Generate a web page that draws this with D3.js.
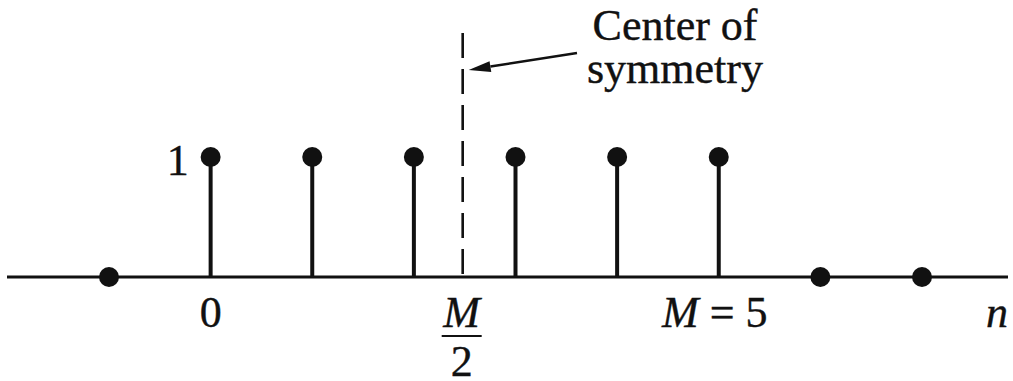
<!DOCTYPE html>
<html>
<head>
<meta charset="utf-8">
<script src="https://cdn.jsdelivr.net/npm/d3@7"></script>
<style>
  html, body { margin: 0; padding: 0; background: #fff; }
  svg { display: block; }
  text { font-family: "Liberation Serif", "Times New Roman", serif; fill: #111; stroke: #111; stroke-width: 0.4px; }
</style>
</head>
<body>
<svg id="chart" width="1013" height="381"></svg>
<script>
// Sample indices and the values h[n] of the symmetric sequence (M = 5)
const samples = [-1, 0, 1, 2, 3, 4, 5, 6, 7];
const values  = [ 0, 1, 1, 1, 1, 1, 1, 0, 0];
const M = 5;
const centerOfSymmetry = M / 2;
const yTickValues = [1];
const yTickLabels = ["1"];
const annotationLines = ["Center of", "symmetry"];

const svg = d3.select("#chart");
const ink = "#111";

// Scales
const x = d3.scaleLinear().domain([-1, 7]).range([109, 922]);
const y = d3.scaleLinear().domain([0, 1]).range([277, 157]);

// Horizontal n axis
svg.append("line")
  .attr("x1", 7).attr("x2", 1008)
  .attr("y1", y(0)).attr("y2", y(0))
  .attr("stroke", ink).attr("stroke-width", 3);

// Dashed line marking the center of symmetry
svg.append("line")
  .attr("x1", x(centerOfSymmetry) - 2).attr("x2", x(centerOfSymmetry) - 2)
  .attr("y1", 33).attr("y2", y(0))
  .attr("stroke", ink).attr("stroke-width", 2.6)
  .attr("stroke-dasharray", "25 11");

// Stems
const pts = samples.map((n, i) => ({ n, v: values[i] }));
svg.selectAll("line.stem")
  .data(pts.filter(d => d.v !== 0))
  .join("line")
  .attr("class", "stem")
  .attr("x1", d => x(d.n)).attr("x2", d => x(d.n))
  .attr("y1", y(0)).attr("y2", d => y(d.v))
  .attr("stroke", ink).attr("stroke-width", 4);

// Sample dots
svg.selectAll("circle.dot")
  .data(pts)
  .join("circle")
  .attr("class", "dot")
  .attr("cx", d => x(d.n))
  .attr("cy", d => y(d.v))
  .attr("r", 10)
  .attr("fill", ink);

// Value label on the left
svg.selectAll("text.ytick")
  .data(yTickValues)
  .join("text")
  .attr("class", "ytick")
  .attr("x", x(0) - 22)
  .attr("y", d => y(d) + 18)
  .attr("text-anchor", "end")
  .attr("font-size", 44)
  .text((d, i) => yTickLabels[i]);

// Labels under the axis
const fs = 44;
svg.append("text")
  .attr("x", x(0)).attr("y", 327)
  .attr("text-anchor", "middle").attr("font-size", fs)
  .text("0");

// M / 2 as a stacked fraction
const cx = x(centerOfSymmetry) - 3;
svg.append("text")
  .attr("x", cx).attr("y", 327)
  .attr("text-anchor", "middle").attr("font-size", fs)
  .attr("font-style", "italic")
  .text("M");
svg.append("line")
  .attr("x1", cx - 20).attr("x2", cx + 20)
  .attr("y1", 336).attr("y2", 336)
  .attr("stroke", ink).attr("stroke-width", 2);
svg.append("text")
  .attr("x", cx).attr("y", 376)
  .attr("text-anchor", "middle").attr("font-size", fs)
  .text("2");

// M = 5
const mLabel = svg.append("text")
  .attr("x", x(M) - 4).attr("y", 327)
  .attr("text-anchor", "middle").attr("font-size", fs);
mLabel.append("tspan").attr("font-style", "italic").text("M");
mLabel.append("tspan").text(" = 5");

// Axis variable
svg.append("text")
  .attr("x", 1008).attr("y", 327)
  .attr("text-anchor", "end").attr("font-size", fs)
  .attr("font-style", "italic")
  .text("n");

// Two-line annotation
svg.append("text")
  .attr("class", "note")
  .attr("text-anchor", "middle")
  .attr("font-size", 44)
  .selectAll("tspan")
  .data(annotationLines)
  .join("tspan")
  .attr("x", 675)
  .attr("y", (d, i) => 40 + i * 43)
  .text(d => d);

// Arrow pointing at the dashed line
const tip = [x(centerOfSymmetry) + 4, 70];
const tail = [577, 53];
const ang = Math.atan2(tail[1] - tip[1], tail[0] - tip[0]);
const headLen = 22, headHalf = 5.5;
const base = [tip[0] + headLen * Math.cos(ang), tip[1] + headLen * Math.sin(ang)];
svg.append("line")
  .attr("x1", tail[0]).attr("y1", tail[1])
  .attr("x2", base[0]).attr("y2", base[1])
  .attr("stroke", ink).attr("stroke-width", 2.5);
const px = -Math.sin(ang), py = Math.cos(ang);
svg.append("path")
  .attr("d", d3.line()([
    tip,
    [base[0] + px * headHalf, base[1] + py * headHalf],
    [base[0] - px * headHalf, base[1] - py * headHalf]
  ]) + "Z")
  .attr("fill", ink);
</script>
</body>
</html>
